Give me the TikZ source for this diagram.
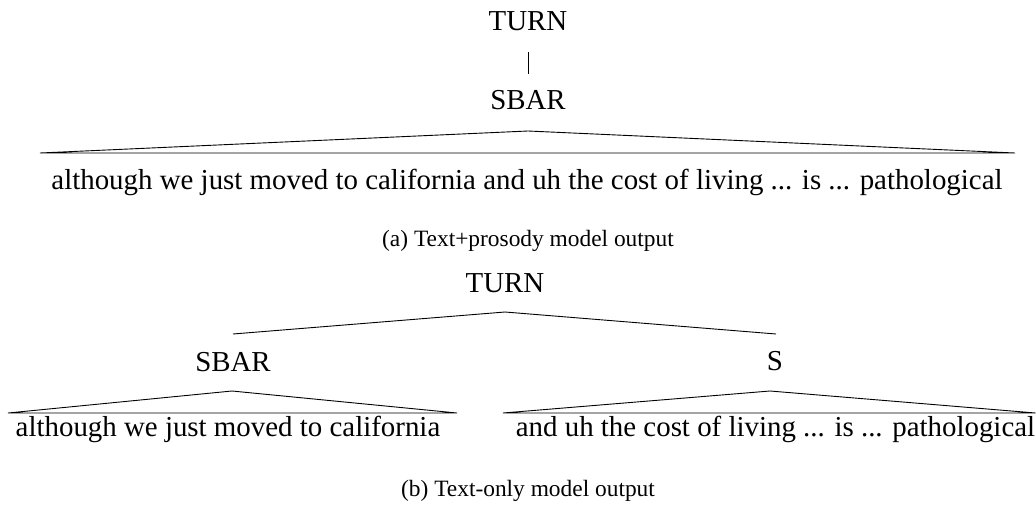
\documentclass[tikz,border=0pt]{standalone}
\usepackage{fontspec}
\setmainfont{Liberation Serif}
\begin{document}
\begin{tikzpicture}[x=1pt,y=-1pt,
  lbl/.style={font=\fontsize{28.9}{31}\selectfont, inner sep=0pt, anchor=base},
  capt/.style={font=\fontsize{23.4}{25}\selectfont, inner sep=0pt, anchor=base},
  branch/.style={line width=0.9pt, line join=miter}]
\useasboundingbox (0,0) rectangle (1036,508);

% ---------- (a) ----------
\node[lbl] (turnA) at (528,31) {TURN};
\node[lbl] (sbarA) at (528,110) {SBAR};
\draw[branch, shorten <=21pt, shorten >=36pt] (turnA.base) -- (sbarA.base);
\coordinate (apexA) at (528,131);
\coordinate (leftA) at (40,153);
\coordinate (rightA) at (1015,153);
\draw[branch] (apexA) -- (leftA) -- (rightA) -- cycle;
\node[lbl] (sentA) at (527,189) {although we just moved to california and uh the cost of living ... is ... pathological};
\node[capt] (captA) at (528,246) {(a) Text+prosody model output};

% ---------- (b) ----------
\node[lbl] (turnB) at (505,292) {TURN};
\coordinate (apexB) at (505,312);
\coordinate (toSbarB) at (233,334);
\coordinate (toSB) at (776,334);
\draw[branch] (toSbarB) -- (apexB) -- (toSB);
\node[lbl] (sbarB) at (233,371) {SBAR};
\node[lbl] (sB) at (775,370) {S};
\coordinate (apexB1) at (232,391);
\coordinate (leftB1) at (8,413);
\coordinate (rightB1) at (457,413);
\draw[branch] (apexB1) -- (leftB1) -- (rightB1) -- cycle;
\coordinate (apexB2) at (770,391);
\coordinate (leftB2) at (503,413);
\coordinate (rightB2) at (1035.5,413);
\draw[branch] (apexB2) -- (leftB2) -- (rightB2) -- cycle;
\node[lbl] (sentB1) at (228,436) {although we just moved to california};
\node[lbl] (sentB2) at (775.5,436) {and uh the cost of living ... is ... pathological};
\node[capt] (captB) at (528,496) {(b) Text-only model output};
\end{tikzpicture}
\end{document}
